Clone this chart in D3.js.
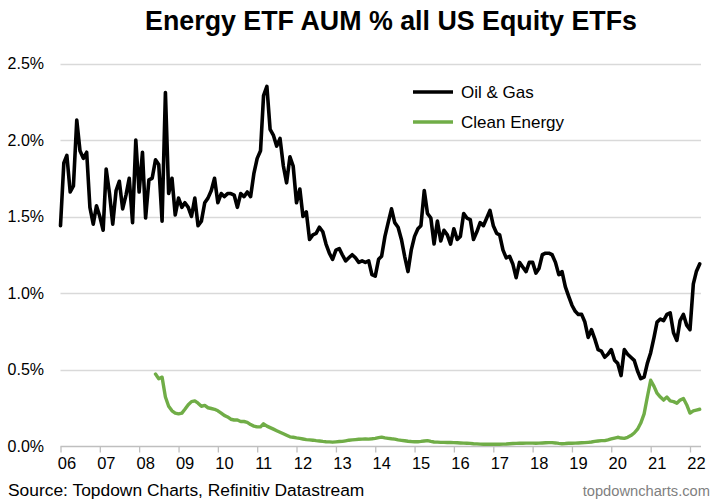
<!DOCTYPE html>
<html>
<head>
<meta charset="utf-8">
<script src="https://cdn.jsdelivr.net/npm/d3@7"></script>
<style>
  html, body { margin: 0; padding: 0; background: #fff; }
  svg { display: block; font-family: "Liberation Sans", Arial, sans-serif; }
</style>
</head>
<body>
<svg id="chart" width="719" height="502"></svg>
<script>
// ---- Data (monthly, % of all US equity ETF AUM) ----
const oilGasStart = [2006, 0];   // Jan 2006
const oilGas = [
  1.44,1.85,1.90,1.66,1.70,2.13,1.93,1.88,1.92,1.56,1.45,1.57,
  1.50,1.41,1.81,1.65,1.45,1.67,1.73,1.55,1.64,1.75,1.46,2.00,
  1.66,1.92,1.49,1.74,1.75,1.87,1.84,1.47,2.31,1.65,1.75,1.51,
  1.62,1.56,1.59,1.56,1.50,1.62,1.44,1.47,1.59,1.62,1.67,1.75,
  1.59,1.65,1.63,1.65,1.65,1.64,1.56,1.65,1.63,1.66,1.63,1.78,
  1.88,1.93,2.29,2.35,2.07,2.03,1.96,2.01,1.83,1.72,1.89,1.83,
  1.59,1.68,1.50,1.53,1.35,1.38,1.39,1.43,1.40,1.32,1.26,1.22,
  1.28,1.29,1.25,1.21,1.23,1.25,1.23,1.20,1.21,1.20,1.21,1.12,
  1.11,1.22,1.24,1.37,1.46,1.55,1.46,1.43,1.35,1.24,1.14,1.28,
  1.37,1.42,1.44,1.67,1.52,1.49,1.32,1.47,1.34,1.41,1.38,1.32,
  1.42,1.35,1.37,1.52,1.49,1.48,1.35,1.40,1.46,1.44,1.49,1.54,
  1.44,1.39,1.38,1.28,1.23,1.24,1.19,1.10,1.20,1.17,1.14,1.20,
  1.20,1.13,1.16,1.25,1.26,1.26,1.25,1.20,1.12,1.14,1.04,0.98,
  0.92,0.88,0.86,0.86,0.81,0.71,0.76,0.70,0.63,0.62,0.58,0.60,
  0.63,0.56,0.54,0.46,0.63,0.60,0.58,0.56,0.49,0.44,0.45,0.54,
  0.61,0.71,0.81,0.83,0.82,0.86,0.87,0.74,0.69,0.82,0.86,0.79,
  0.76,1.06,1.14,1.19
];
const cleanStart = [2008, 5];    // Jun 2008
const cleanEnergy = [
  0.47,0.44,0.45,0.32,0.26,0.23,0.215,
  0.21,0.215,0.24,0.27,0.29,0.295,0.28,0.26,0.265,0.25,0.245,0.24,
  0.23,0.215,0.20,0.19,0.175,0.17,0.17,0.16,0.16,0.155,0.14,0.13,
  0.125,0.125,0.145,0.13,0.12,0.11,0.10,0.09,0.08,0.07,0.06,0.057,
  0.053,0.05,0.046,0.042,0.04,0.038,0.035,0.033,0.03,0.028,0.027,0.025,
  0.027,0.029,0.03,0.034,0.038,0.04,0.042,0.044,0.045,0.046,0.045,0.047,
  0.05,0.055,0.058,0.053,0.05,0.047,0.045,0.04,0.037,0.034,0.031,0.029,
  0.028,0.028,0.03,0.033,0.035,0.03,0.026,0.025,0.024,0.024,0.023,0.023,
  0.022,0.021,0.02,0.019,0.018,0.017,0.015,0.014,0.012,0.011,0.011,0.011,
  0.011,0.011,0.011,0.012,0.013,0.015,0.016,0.017,0.018,0.018,0.019,0.019,
  0.019,0.018,0.019,0.02,0.021,0.022,0.022,0.02,0.017,0.015,0.016,0.018,
  0.018,0.019,0.02,0.021,0.022,0.024,0.026,0.03,0.033,0.035,0.035,0.04,
  0.046,0.052,0.057,0.052,0.05,0.057,0.068,0.085,0.11,0.15,0.21,0.32,
  0.43,0.39,0.345,0.32,0.30,0.32,0.295,0.29,0.28,0.30,0.31,0.27,
  0.215,0.23,0.235,0.24
];
const yTicks = [0, 0.5, 1.0, 1.5, 2.0, 2.5];
const yearTicks = d3.range(2006, 2023);
const seriesNames = ["Oil & Gas", "Clean Energy"];
const seriesColors = ["#000000", "#70AD47"];
const titleText = "Energy ETF AUM % all US Equity ETFs";
const sourceText = "Source: Topdown Charts, Refinitiv Datastream";
const siteText = "topdowncharts.com";

// ---- Build ----
const toPoints = (start, vals) => vals.map((v, i) => ({ date: new Date(start[0], start[1] + i, 1), value: v }));
const series = [toPoints(oilGasStart, oilGas), toPoints(cleanStart, cleanEnergy)];

const svg = d3.select("#chart");
const x = d3.scaleTime().domain([new Date(2006, 0, 1), new Date(2022, 0, 1)]).range([60.5, 690]);
const y = d3.scaleLinear().domain([0, 2.5]).range([446, 63.5]);
const plotRight = 701;

// gridlines
svg.append("g").selectAll("line").data(yTicks.filter(d => d > 0)).join("line")
  .attr("x1", 60.5).attr("x2", plotRight)
  .attr("y1", d => Math.round(y(d)) + 0.5).attr("y2", d => Math.round(y(d)) + 0.5)
  .attr("stroke", "#d9d9d9").attr("stroke-width", 1.3);

// y labels
svg.append("g").selectAll("text").data(yTicks).join("text")
  .attr("x", 44).attr("y", d => y(d)).attr("dy", "0.36em")
  .attr("text-anchor", "end").attr("font-size", 16).attr("fill", "#000")
  .text(d => d.toFixed(1) + "%");

// x axis
const xAxis = d3.axisBottom(x)
  .tickValues(yearTicks.map(yr => new Date(yr, 0, 1)))
  .tickSize(6).tickSizeOuter(0)
  .tickFormat(d3.timeFormat("%y"));
const gx = svg.append("g").attr("transform", "translate(0,446.5)").call(xAxis);
gx.select(".domain").attr("d", `M60.5,0H${plotRight}`).attr("stroke", "#bfbfbf").attr("stroke-width", 1.3);
gx.selectAll(".tick line").attr("stroke", "#bfbfbf").attr("stroke-width", 1.3);
gx.selectAll(".tick text").attr("font-size", 16.5).attr("fill", "#000")
  .attr("font-family", "Liberation Sans, Arial, sans-serif")
  .attr("x", 6).attr("y", 11);

// lines
const line = d3.line().x(d => x(d.date)).y(d => y(d.value));
svg.append("g").selectAll("path").data(series).join("path")
  .attr("d", line).attr("fill", "none")
  .attr("stroke", (d, i) => seriesColors[i])
  .attr("stroke-width", (d, i) => i === 0 ? 3.6 : 3.4)
  .attr("stroke-linejoin", "round").attr("stroke-linecap", "round");

// legend
const leg = svg.append("g").selectAll("g").data(seriesNames).join("g")
  .attr("transform", (d, i) => `translate(413,${92 + i * 30})`);
leg.append("line").attr("x1", 0).attr("x2", 40).attr("y1", 0).attr("y2", 0)
  .attr("stroke", (d, i) => seriesColors[i]).attr("stroke-width", 3.6);
leg.append("text").attr("x", 48).attr("y", 0).attr("dy", "0.36em")
  .attr("font-size", 17).attr("fill", "#000").text(d => d);

// title
svg.append("text").attr("x", 391).attr("y", 30).attr("text-anchor", "middle")
  .attr("font-size", 26.8).attr("font-weight", "bold").attr("fill", "#000").text(titleText);

// footer
svg.append("text").attr("x", 8).attr("y", 496).attr("font-size", 17.4).attr("fill", "#000").text(sourceText);
svg.append("text").attr("x", 710).attr("y", 496).attr("text-anchor", "end")
  .attr("font-size", 14.7).attr("fill", "#7f7f7f").text(siteText);
</script>
</body>
</html>
